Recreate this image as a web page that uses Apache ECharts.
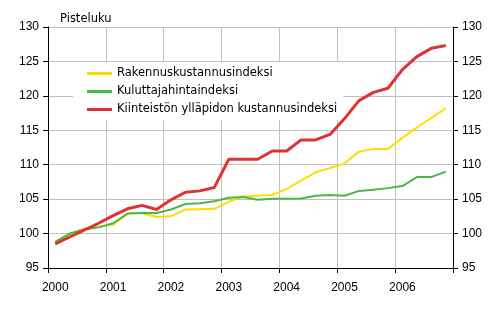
<!DOCTYPE html>
<html><head><meta charset="utf-8">
<script src="https://cdn.jsdelivr.net/npm/echarts@6/dist/echarts.min.js"></script>
<style>html,body{margin:0;padding:0;background:#fff}#c{width:490px;height:318px}</style>
</head><body><div id="c"></div>
<script>
var years = ['2000','2001','2002','2003','2004','2005','2006'];
var quarters = ['I','II','III','IV'];
var categories = [];
years.forEach(function(y){ quarters.forEach(function(q){ categories.push(y + ' ' + q); }); });

var seriesNames = ['Rakennuskustannusindeksi','Kuluttajahintaindeksi','Kiinteistön ylläpidon kustannusindeksi'];
var rakennus = [98.8,99.9,100.7,101.0, 101.3,102.9,103.0,102.4, 102.5,103.5,103.55,103.6, 104.6,105.4,105.5,105.6, 106.5,107.7,108.9,109.5, 110.2,111.9,112.3,112.3, 113.9,115.4,116.8,118.2];
var kuluttaja = [98.8,100.0,100.6,100.9, 101.5,102.9,103.0,103.0, 103.5,104.3,104.4,104.7, 105.2,105.3,104.9,105.05, 105.05,105.1,105.5,105.6, 105.5,106.2,106.35,106.6, 106.9,108.2,108.2,109.0];
var kiinteisto = [98.5,99.5,100.5,101.5, 102.6,103.6,104.1,103.5, 104.9,106.0,106.2,106.7, 110.8,110.8,110.8,112.0, 112.0,113.6,113.6,114.4, 116.7,119.3,120.5,121.1, 123.8,125.7,126.9,127.3];
var yTicks = [95,100,105,110,115,120,125,130];
var unitLabel = 'Pisteluku';

var FONT = 'Liberation Sans';
var TFONT = 'DejaVu Sans';
var chart = echarts.init(document.getElementById('c'), null, {renderer:'canvas'});
var yAxisCommon = {
  type:'value', min:yTicks[0], max:yTicks[yTicks.length-1], interval:5,
  axisLine:{show:true, lineStyle:{color:'#000', width:1}},
  axisTick:{show:true, length:5, lineStyle:{color:'#000'}},
  axisLabel:{color:'#000', fontFamily:FONT, fontSize:12, margin:9},
  splitLine:{show:true, lineStyle:{color:'#c0c0c0', width:1}}
};
chart.setOption({
  animation:false,
  backgroundColor:'#fff',
  title:{text:unitLabel, left:55, top:8, textStyle:{fontFamily:TFONT, fontSize:11.5, fontWeight:'normal', color:'#000'}},
  grid:{left:48, right:37, top:27, bottom:50, containLabel:false},
  legend:{
    orient:'vertical', left:73, top:62, padding:[5,6,4,14], itemGap:5,
    backgroundColor:'#fff', itemWidth:25, itemHeight:3, icon:'rect',
    textStyle:{fontFamily:TFONT, fontSize:11.5, color:'#000', lineHeight:13},
    data:seriesNames
  },
  xAxis:{
    type:'category', data:categories, boundaryGap:true,
    axisLine:{show:true, lineStyle:{color:'#000'}},
    axisTick:{show:true, length:5, interval:3, lineStyle:{color:'#000'}},
    axisLabel:{interval:3, color:'#000', fontFamily:FONT, fontSize:12, margin:14,
      formatter:function(v){ return v.split(' ')[0]; }},
    splitLine:{show:true, interval:3, lineStyle:{color:'#c0c0c0', width:1}}
  },
  yAxis:[
    Object.assign({}, yAxisCommon, {position:'left'}),
    Object.assign({}, yAxisCommon, {position:'right', splitLine:{show:false}})
  ],
  series:[
    {name:seriesNames[0], type:'line', data:rakennus, showSymbol:false, symbol:'none', color:'#FFDD00', lineStyle:{width:2, color:'#FFDD00'}, z:2},
    {name:seriesNames[1], type:'line', data:kuluttaja, showSymbol:false, symbol:'none', color:'#4CB848', lineStyle:{width:2, color:'#4CB848'}, z:3},
    {name:seriesNames[2], type:'line', data:kiinteisto, showSymbol:false, symbol:'none', color:'#DD3333', lineStyle:{width:3, color:'#DD3333'}, z:4}
  ]
});
</script></body></html>
